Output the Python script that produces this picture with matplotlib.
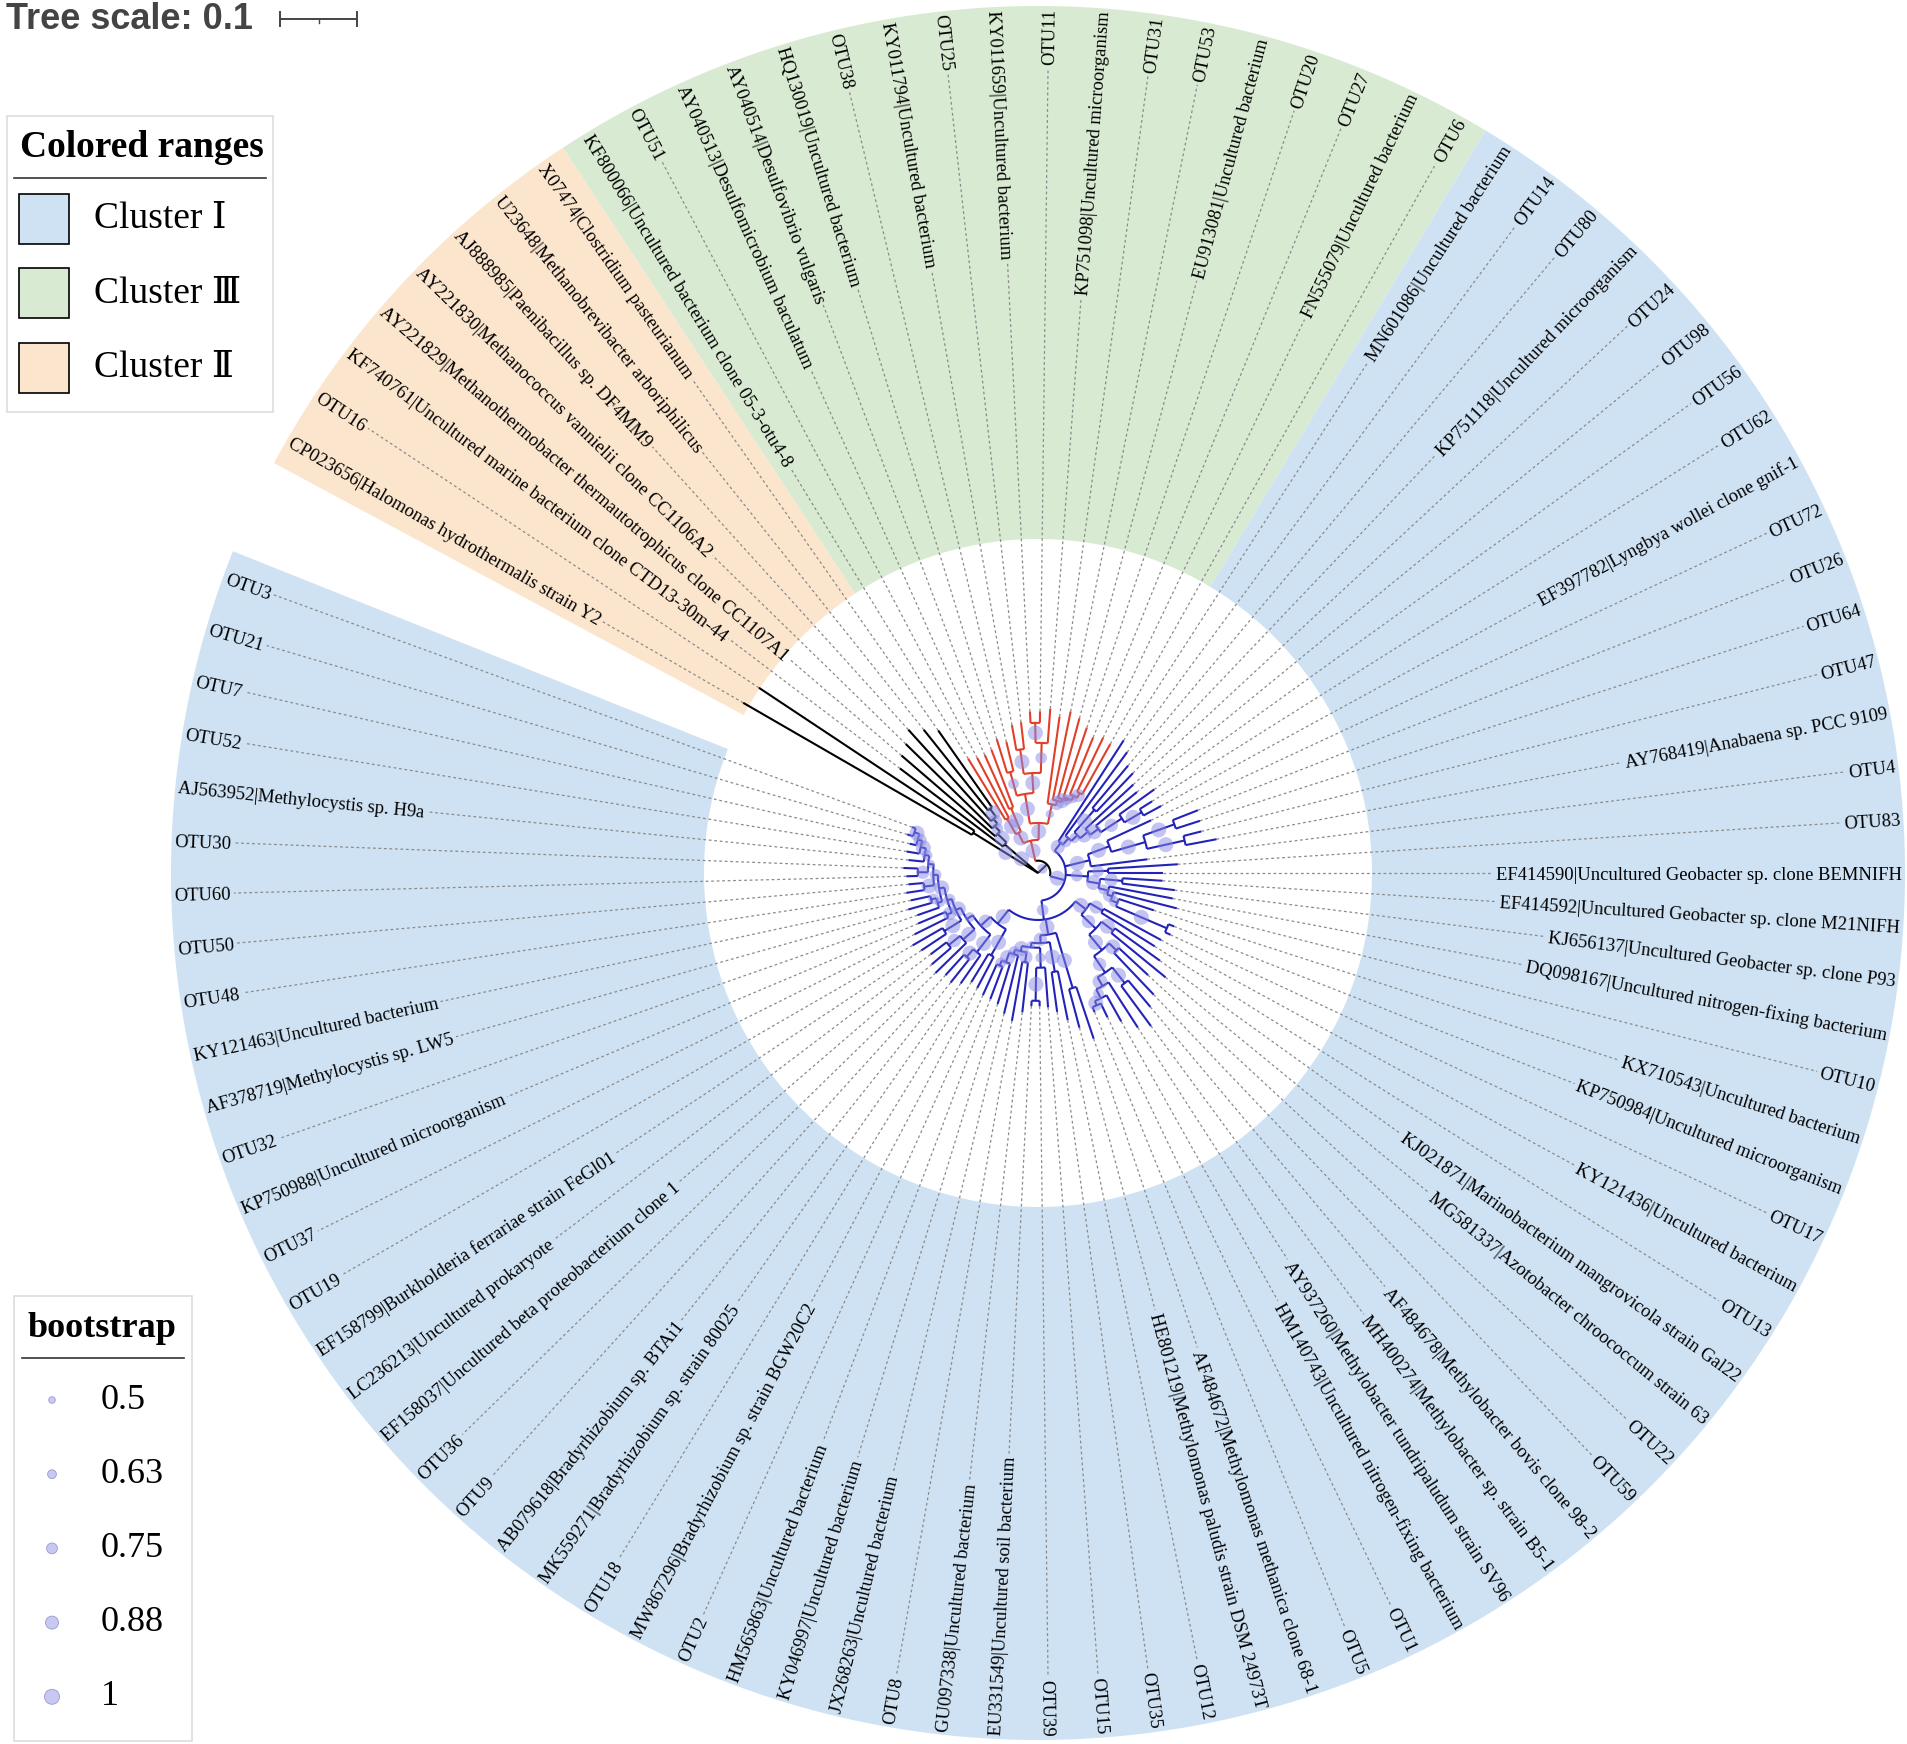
import numpy as np
import matplotlib
matplotlib.use('Agg')
import matplotlib.pyplot as plt
from matplotlib.collections import LineCollection
from matplotlib.patches import Polygon, Rectangle, Circle
from matplotlib.font_manager import FontProperties

plt.rcParams['font.family'] = ['Liberation Serif', 'DejaVu Serif']

# ---------------------------------------------------------------- data
# leaf labels, clockwise starting after the gap (upper left)
cluster2_labels = [
    "CP023656|Halomonas hydrothermalis strain Y2",
    "OTU16",
    "KF740761|Uncultured marine bacterium clone CTD13-30m-44",
    "AY221829|Methanothermobacter thermautotrophicus clone CC1107A1",
    "AY221830|Methanococcus vannielii clone CC1106A2",
    "AJ888985|Paenibacillus sp. DF4MM9",
    "U23648|Methanobrevibacter arboriphilicus",
    "X07474|Clostridium pasteurianum",
]
cluster3_labels = [
    "KF800066|Uncultured bacterium clone 05-3-otu4-8", "OTU51",
    "AY040513|Desulfomicrobium baculatum", "AY040514|Desulfovibrio vulgaris",
    "HQ130019|Uncultured bacterium", "OTU38", "KY011794|Uncultured bacterium",
    "OTU25", "KY011659|Uncultured bacterium", "OTU11",
    "KP751098|Uncultured microorganism", "OTU31", "OTU53",
    "EU913081|Uncultured bacterium", "OTU20", "OTU27",
    "FN555079|Uncultured bacterium", "OTU6",
]
cluster1_labels = [
    "MN601086|Uncultured bacterium", "OTU14", "OTU80",
    "KP751118|Uncultured microorganism", "OTU24", "OTU98", "OTU56", "OTU62",
    "EF397782|Lyngbya wollei clone gnif-1", "OTU72", "OTU26", "OTU64", "OTU47",
    "AY768419|Anabaena sp. PCC 9109", "OTU4", "OTU83",
    "EF414590|Uncultured Geobacter sp. clone BEMNIFH",
    "EF414592|Uncultured Geobacter sp. clone M21NIFH",
    "KJ656137|Uncultured Geobacter sp. clone P93",
    "DQ098167|Uncultured nitrogen-fixing bacterium", "OTU10",
    "KX710543|Uncultured bacterium", "KP750984|Uncultured microorganism", "OTU17",
    "KY121436|Uncultured bacterium", "OTU13",
    "KJ021871|Marinobacterium mangrovicola strain Gal22",
    "MG581337|Azotobacter chroococcum strain 63", "OTU22", "OTU59",
    "AF484678|Methylobacter bovis clone 98-2",
    "MH400274|Methylobacter sp. strain B5-1",
    "AY937260|Methylobacter tundripaludum strain SV96",
    "HM140743|Uncultured nitrogen-fixing bacterium", "OTU1", "OTU5",
    "AF484672|Methylomonas methanica clone 68-1",
    "HE801219|Methylomonas paludis strain DSM 24973T", "OTU12", "OTU35", "OTU15",
    "OTU39", "EU331549|Uncultured soil bacterium", "GU097338|Uncultured bacterium",
    "OTU8", "JX268263|Uncultured bacterium", "KY046997|Uncultured bacterium",
    "HM565863|Uncultured bacterium", "OTU2",
    "MW867296|Bradyrhizobium sp. strain BGW20C2", "OTU18",
    "MK559271|Bradyrhizobium sp. strain 80025", "AB079618|Bradyrhizobium sp. BTAi1",
    "OTU9", "OTU36", "EF158037|Uncultured beta proteobacterium clone 1",
    "LC236213|Uncultured prokaryote", "EF158799|Burkholderia ferrariae strain FeGl01",
    "OTU19", "OTU37", "KP750988|Uncultured microorganism", "OTU32",
    "AF378719|Methylocystis sp. LW5", "KY121463|Uncultured bacterium", "OTU48",
    "OTU50", "OTU60", "OTU30", "AJ563952|Methylocystis sp. H9a", "OTU52", "OTU7",
    "OTU21", "OTU3",
]

# tree: number after ':' = distance from the root,
# number right after ')' = bootstrap support
cluster2_newick = ("(CP023656:0.442,OTU16:0.435)0.95:0.099,"
                   "(KF740761:0.225,(AY221829:0.234,(AY221830:0.240,(AJ888985:0.251,"
                   "(U23648:0.238,X07474:0.226)1:0.104)0.9:0.091)0.8:0.083)1:0.073)1:0.057")
cluster3_newick = ("(((KF800066:0.174,OTU51:0.169)1:0.081,(AY040513:0.168,AY040514:0.171)1:0.091)1:0.058,"
                   "(((HQ130019:0.182,OTU38:0.175)0.75:0.136,((KY011794:0.195,OTU25:0.197)1:0.162,"
                   "((KY011659:0.210,OTU11:0.210)1:0.195,KP751098:0.214)0.8:0.169)1:0.130)1:0.104,"
                   "(OTU31:0.205,(OTU53:0.214,(EU913081:0.208,(OTU20:0.199,(OTU27:0.190,"
                   "(FN555079:0.195,OTU6:0.192)0.9:0.117)0.7:0.110)0.75:0.104)1:0.101)0.95:0.097)0.6:0.091)"
                   "1:0.065)1:0.043")
upper_clade = ("(MN601086:0.205,(OTU14:0.195,((OTU80:0.182,KP751118:0.179)1:0.110,(OTU24:0.169,"
               "(OTU98:0.166,(OTU56:0.186,(OTU62:0.175,EF397782:0.182)1:0.156)0.9:0.130)1:0.097)"
               "1:0.084)0.7:0.071)0.8:0.060)0.95:0.049")
anabaena_clade = ("((OTU72:0.162,((OTU26:0.223,OTU64:0.221)1:0.188,(OTU47:0.219,AY768419:0.236)1:0.195)"
                  "1:0.145)1:0.099,OTU4:0.143)1:0.069")
geobacter_clade = ("((OTU83:0.182,EF414590:0.162)0.8:0.091,((EF414592:0.162,KJ656137:0.179)0.9:0.110,"
                   "(DQ098167:0.178,(OTU10:0.186,(KX710543:0.158,(KP750984:0.190,OTU17:0.190)1:0.182)"
                   "0.75:0.110)0.9:0.101)0.7:0.094)1:0.081)0.8:0.065")
methylobacter_clade = ("((KY121436:0.182,OTU13:0.179)0.9:0.097,((KJ021871:0.195,MG581337:0.214)1:0.123,"
                       "((OTU22:0.195,OTU59:0.218)1:0.143,((AF484678:0.227,MH400274:0.247)1:0.182,"
                       "(AY937260:0.239,(HM140743:0.221,(OTU1:0.208,OTU5:0.195)1:0.188)0.75:0.182)1:0.169)"
                       "0.9:0.156)1:0.130)0.9:0.104)1:0.078")
methylomonas_clade = ("((AF484672:0.227,HE801219:0.208)1:0.156,((OTU12:0.195,OTU35:0.182)1:0.130,"
                      "((OTU15:0.175,(OTU39:0.173,EU331549:0.173)1:0.166)0.7:0.123,"
                      "((GU097338:0.182,OTU8:0.195)0.9:0.117,(JX268263:0.188,(KY046997:0.178,"
                      "(HM565863:0.175,OTU2:0.174)0.75:0.130)1:0.123)0.8:0.110)1:0.104)0.6:0.097)"
                      "0.9:0.091)1:0.081")
rhizobia_clade = ("((MW867296:0.169,OTU18:0.166)1:0.123,"
                  "((MK559271:0.175,(AB079618:0.182,OTU9:0.179)1:0.143)1:0.130,"
                  "((OTU36:0.186,(EF158037:0.182,LC236213:0.175)0.9:0.149)1:0.130,"
                  "((EF158799:0.182,OTU19:0.188)1:0.143,"
                  "((OTU37:0.179,KP750988:0.169)0.9:0.130,"
                  "((OTU32:0.166,(AF378719:0.175,KY121463:0.169)0.75:0.143)0.7:0.136,"
                  "((OTU48:0.173,OTU50:0.169)1:0.149,((OTU60:0.171,OTU30:0.175)0.9:0.156,"
                  "(AJ563952:0.169,(OTU52:0.173,(OTU7:0.171,(OTU21:0.177,OTU3:0.174)1:0.169)0.9:0.162)"
                  "1:0.156)0.75:0.149)0.6:0.143)0.8:0.136"
                  ")1:0.130)0.8:0.123)1:0.117)0.7:0.110)0.9:0.101)1:0.084")

tree_scale = 0.1
bootstrap_legend = [0.5, 0.63, 0.75, 0.88, 1]
range_names = ['Cluster Ⅰ', 'Cluster Ⅲ', 'Cluster Ⅱ']

# ---------------------------------------------------------------- styles
range_colors = {'I': '#cfe2f3', 'III': '#d9ead3', 'II': '#fce5cd'}
branch_colors = {'I': '#2323b8', 'III': '#e0402a', 'II': 'black', None: 'black'}
cx, cy = 1038, 873          # tree centre (pixels)
px_per_unit = 770           # 0.1 of tree scale = 77 px
step = 350 / 98             # degrees between neighbouring leaves
theta0 = 150.0              # angle of the first leaf
r_in, r_out, r_lab = 334, 867, 864

blue_clade = ("(" + upper_clade + "," + anabaena_clade + "," + geobacter_clade + ",("
              + methylobacter_clade + "," + methylomonas_clade + "," + rhizobia_clade
              + ")0.8:0.061)1:0.036")
newick = "(" + cluster2_newick + ",(" + cluster3_newick + "," + blue_clade + ")0.7:0.016);"

full_label = {}
cluster_of = {}
for cl, labs in (('II', cluster2_labels), ('III', cluster3_labels), ('I', cluster1_labels)):
    for lab in labs:
        full_label[lab.split('|')[0]] = lab
        cluster_of[lab.split('|')[0]] = cl


def parse(s):
    pos = 0

    def node():
        nonlocal pos
        n = {'children': [], 'name': '', 'support': None, 'depth': 0.0}
        if s[pos] == '(':
            pos += 1
            n['children'].append(node())
            while s[pos] == ',':
                pos += 1
                n['children'].append(node())
            pos += 1
        start = pos
        while s[pos] not in ':,();':
            pos += 1
        tok = s[start:pos]
        if n['children']:
            if tok:
                n['support'] = float(tok)
        else:
            n['name'] = tok
        if s[pos] == ':':
            pos += 1
            start = pos
            while s[pos] not in ',();':
                pos += 1
            n['depth'] = float(s[start:pos])
        return n

    return node()


root = parse(newick)
leaves = []


def layout(n, pdepth):
    n['pdepth'] = pdepth
    if not n['children']:
        n['angle'] = theta0 - len(leaves) * step
        n['cl'] = cluster_of[n['name']]
        leaves.append(n)
        return
    for c in n['children']:
        layout(c, n['depth'])
    n['angle'] = 0.5 * (n['children'][0]['angle'] + n['children'][-1]['angle'])
    cls = {c['cl'] for c in n['children']}
    n['cl'] = cls.pop() if len(cls) == 1 else None


layout(root, 0.0)


def xy(r, a):
    t = np.radians(a)
    return cx + r * np.cos(t), cy - r * np.sin(t)


fig = plt.figure(figsize=(19.07, 17.44), dpi=100)
ax = fig.add_axes([0, 0, 1, 1])
ax.set_xlim(0, 1907)
ax.set_ylim(1744, 0)
ax.axis('off')

# colored ranges
for cl in ('II', 'III', 'I'):
    angs = [lf['angle'] for lf in leaves if lf['cl'] == cl]
    a1, a2 = max(angs) + step / 2, min(angs) - step / 2
    aa = np.linspace(a1, a2, 300)
    ox, oy = xy(r_out, aa)
    ix, iy = xy(r_in, aa[::-1])
    pts = np.column_stack([np.r_[ox, ix], np.r_[oy, iy]])
    ax.add_patch(Polygon(pts, closed=True, facecolor=range_colors[cl], edgecolor='none', zorder=1))

# branches
segs = {}


def collect(n, is_root=False):
    col = branch_colors[n['cl']]
    if not is_root:
        x0, y0 = xy(n['pdepth'] * px_per_unit, n['angle'])
        x1, y1 = xy(n['depth'] * px_per_unit, n['angle'])
        segs.setdefault(col, []).append([(x0, y0), (x1, y1)])
    if n['children']:
        a1, a2 = n['children'][0]['angle'], n['children'][-1]['angle']
        aa = np.linspace(a1, a2, int(abs(a1 - a2) * 3) + 2)
        axs, ays = xy(n['depth'] * px_per_unit, aa)
        segs.setdefault(col, []).append(list(zip(axs, ays)))
        for c in n['children']:
            collect(c)


collect(root, True)
for col, ss in segs.items():
    ax.add_collection(LineCollection(ss, colors=col, linewidths=1.5, zorder=3,
                                     capstyle='butt'))

# bootstrap symbols (middle of the branch)
def boot_radius(b):
    return 3.3 + (b - 0.5) * 8.4


def symbols(n, is_root=False):
    if n['children']:
        if not is_root and n['support'] is not None and n['support'] >= 0.5:
            x, y = xy(0.5 * (n['pdepth'] + n['depth']) * px_per_unit, n['angle'])
            ax.add_patch(Circle((x, y), boot_radius(n['support']), facecolor='#8a8ae6',
                                alpha=0.5, edgecolor='none', zorder=4))
        for c in n['children']:
            symbols(c)


symbols(root, True)

# leaf labels + dotted guides
renderer = fig.canvas.get_renderer()
lab_font = FontProperties(family='Liberation Serif', size=13.4)
for lf in leaves:
    a = lf['angle']
    an = (a + 180) % 360 - 180
    text = full_label[lf['name']]
    w = renderer.get_text_width_height_descent(text, lab_font, ismath=False)[0]
    tx, ty = xy(r_lab, a)
    if -90 < an <= 90:
        rot, ha = an, 'right'
    else:
        rot, ha = an + 180 if an < 0 else an - 180, 'left'
    ax.text(tx, ty, text, rotation=rot, ha=ha, va='center_baseline', rotation_mode='anchor',
            fontproperties=lab_font, color='black', zorder=5)
    r0 = lf['depth'] * px_per_unit
    r1 = r_lab - w - 3
    x0, y0 = xy(r0, a)
    x1, y1 = xy(r1, a)
    ax.plot([x0, x1], [y0, y1], color='#8a8a8a', lw=0.9, ls=(0, (2.2, 2.2)), zorder=2)

# tree scale
ax.text(6, 29, f'Tree scale: {tree_scale:g}', family='Liberation Sans', weight='bold',
        fontsize=26, color='#444444', ha='left', va='baseline')
bx0 = 280
bx1 = bx0 + tree_scale * px_per_unit
ax.plot([bx0, bx1], [19, 19], color='#444444', lw=1.4, solid_capstyle='butt')
ax.plot([bx0, bx0], [12, 26], color='#444444', lw=1.4)
ax.plot([bx1, bx1], [12, 26], color='#444444', lw=1.4)
ax.plot([(bx0 + bx1) / 2] * 2, [19, 23], color='#444444', lw=1.0)

# colored ranges legend
ax.add_patch(Rectangle((7, 116), 266, 296, facecolor='white', edgecolor='#dddddd', lw=1.2, zorder=6))
ax.text(20, 157, 'Colored ranges', fontsize=27, weight='bold', ha='left', va='baseline', zorder=7)
ax.plot([14, 266], [178, 178], color='#333333', lw=1.2, zorder=7)
for k, (name, cl) in enumerate(zip(range_names, ['I', 'III', 'II'])):
    y = 194 + k * 74.5
    ax.add_patch(Rectangle((19, y), 50, 50, facecolor=range_colors[cl], edgecolor='black',
                           lw=1.2, zorder=7))
    ax.text(94, y + 25, name, fontsize=27, ha='left', va='center', zorder=7,
            family=['Liberation Serif', 'DejaVu Serif'])

# bootstrap legend
ax.add_patch(Rectangle((14, 1296), 178, 445, facecolor='white', edgecolor='#dddddd', lw=1.2, zorder=6))
ax.text(28, 1337, 'bootstrap', fontsize=26, weight='bold', ha='left', va='baseline', zorder=7)
ax.plot([22, 184], [1358, 1358], color='#333333', lw=1.2, zorder=7)
for k, b in enumerate(bootstrap_legend):
    y = 1400 + k * 74.2
    ax.add_patch(Circle((52, y), boot_radius(b), facecolor='#c8c8f2', edgecolor='#9a9ad0',
                        lw=0.6, zorder=7))
    ax.text(101, y, f'{b:g}', fontsize=26, ha='left', va='center', zorder=7)

fig.savefig('out.png', dpi=100)
